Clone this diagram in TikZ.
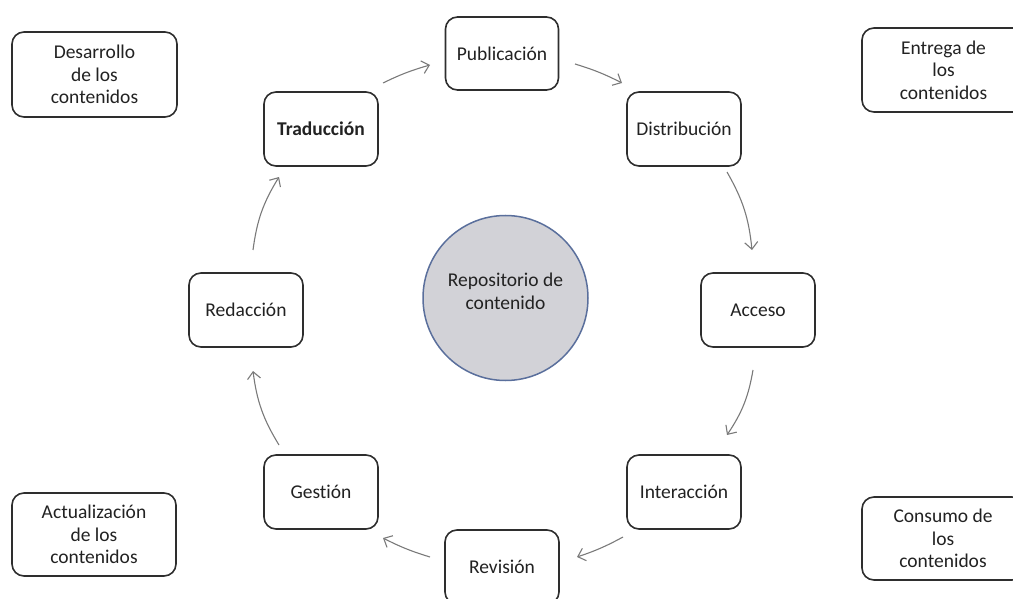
\documentclass[tikz,border=0pt]{standalone}
\usepackage{fontspec}
\setmainfont{Carlito}[Ligatures={NoCommon,NoDiscretionary,NoContextual}]
\usetikzlibrary{arrows.meta}
\definecolor{boxline}{HTML}{2E2E2E}
\definecolor{txt}{HTML}{222222}
\definecolor{arr}{HTML}{7A7A7A}
\definecolor{circfill}{HTML}{D2D2D7}
\definecolor{circline}{HTML}{5A6F9C}
\tikzset{
  stagebox/.style={draw=boxline, line width=1.6pt, rounded corners=12pt, fill=white,
    minimum width=114pt, minimum height=74pt, inner sep=0pt, text=txt,
    font=\fontsize{19.5pt}{23pt}\selectfont},
  sidebox/.style={draw=boxline, line width=1.6pt, rounded corners=12pt, fill=white,
    minimum height=84pt, inner sep=0pt, text=txt, align=center,
    font=\fontsize{19.5pt}{22.5pt}\selectfont},
  flow/.style={draw=arr, line width=1.1pt, -{Straight Barb[length=7pt,width=13pt,line width=1.1pt]}},
}
\begin{document}
\begin{tikzpicture}[x=1pt,y=-1pt]
\useasboundingbox (0,0) rectangle (1013,599);
% central circle
\node[circle, draw=circline, line width=1.5pt, fill=circfill, minimum size=165pt, inner sep=0pt] (repo) at (505.5,298) {};
\node[align=center, text=txt, inner sep=0pt, font=\fontsize{19.5pt}{23pt}\selectfont] (repotext) at (505.5,291) {Repositorio de\\contenido};
% cycle stages
\node[stagebox, minimum width=113pt, minimum height=73pt] (pub) at (502,53.5) {Publicación};
\node[stagebox] (trad) at (321,129) {\textbf{Traducción}};
\node[stagebox] (dist) at (684,129) {Distribución};
\node[stagebox] (acc) at (758,310) {Acceso};
\node[stagebox] (inter) at (684,492) {Interacción};
\node[stagebox] (rev) at (502,567) {Revisión};
\node[stagebox] (gest) at (321,492) {Gestión};
\node[stagebox] (red) at (246,310) {Redacción};
% corner boxes
\node[sidebox, minimum width=165pt, minimum height=85pt] (desa) at (94.5,74.5) {Desarrollo\\de los\\contenidos};
\node[sidebox, minimum width=163pt] (entr) at (943.5,70) {Entrega de\\los\\contenidos};
\node[sidebox, minimum width=164pt, minimum height=83pt] (actu) at (94,534.5) {Actualización\\de los\\contenidos};
\node[sidebox, minimum width=162pt, minimum height=83pt] (cons) at (943,538.5) {Consumo de\\los\\contenidos};
% arrow end points
\coordinate (a1s) at (383,83);  \coordinate (a1e) at (430,65);
\coordinate (a2s) at (575,64);  \coordinate (a2e) at (622,83);
\coordinate (a3s) at (727,172); \coordinate (a3e) at (752,250);
\coordinate (a4s) at (753,370); \coordinate (a4e) at (727,435);
\coordinate (a5s) at (623,537); \coordinate (a5e) at (577,557);
\coordinate (a6s) at (430,557); \coordinate (a6e) at (383,538);
\coordinate (a7s) at (279,445); \coordinate (a7e) at (253,371);
\coordinate (a8s) at (253,250); \coordinate (a8e) at (279,177);
\draw[flow] (a1s) to[bend left=5] (a1e);
\draw[flow] (a2s) to[bend left=5] (a2e);
\draw[flow] (a3s) to[bend left=12] (a3e);
\draw[flow] (a4s) to[bend left=12] (a4e);
\draw[flow] (a5s) to[bend left=5] (a5e);
\draw[flow] (a6s) to[bend left=5] (a6e);
\draw[flow] (a7s) to[bend left=12] (a7e);
\draw[flow] (a8s) to[bend left=12] (a8e);
\end{tikzpicture}
\end{document}
